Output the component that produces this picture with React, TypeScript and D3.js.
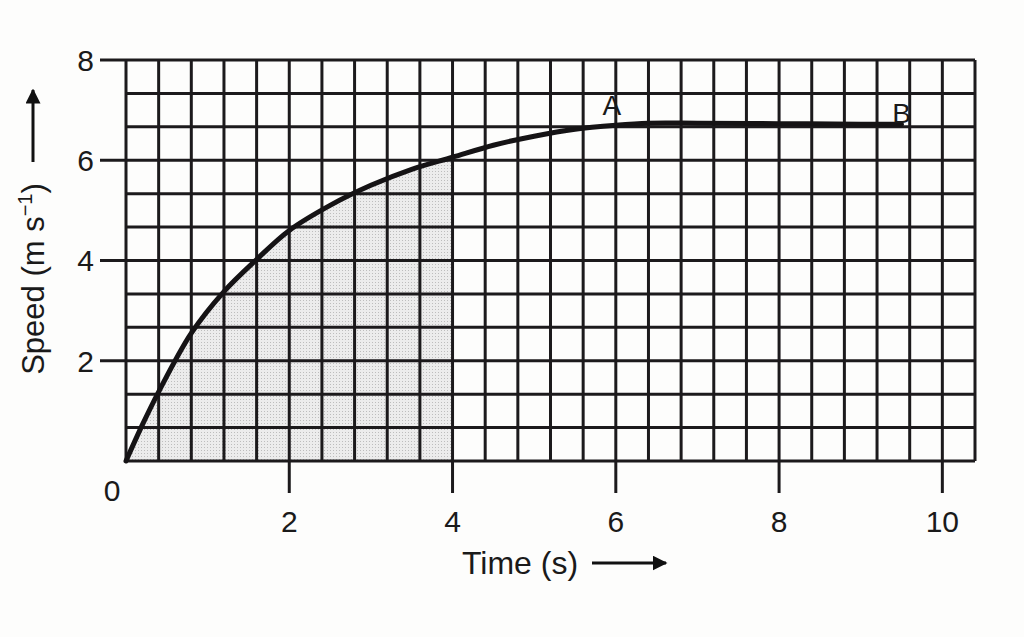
import React from "react";
import * as d3 from "d3";

const timeValues = [0, 0.2, 0.4, 0.8, 1.2, 1.6, 2, 2.5, 3, 3.5, 4, 4.5, 5, 5.5, 6, 6.4, 7, 8, 9, 9.5];
const speedValues = [0, 0.72, 1.38, 2.55, 3.38, 4.02, 4.6, 5.1, 5.5, 5.82, 6.06, 6.3, 6.48, 6.62, 6.7, 6.74, 6.74, 6.73, 6.72, 6.72];
const xTickLabels = [2, 4, 6, 8, 10];
const yTickLabels = [2, 4, 6, 8];
const shadedUntil = 4;
const xCellSize = 0.4;
const xCells = 26;
const yCellSize = 2 / 3;
const yCells = 12;

const W = 1024, H = 637;
const FONT = "'Liberation Sans', Arial, Helvetica, sans-serif";

export default function App() {
  const x = d3.scaleLinear().domain([0, xCells * xCellSize]).range([126, 975]);
  const y = d3.scaleLinear().domain([0, 8]).range([461, 60]);
  const data = timeValues.map((t, i) => ({ t, v: speedValues[i] }));
  const line = d3.line<any>().x(d => x(d.t)).y(d => y(d.v)).curve(d3.curveCatmullRom.alpha(0.5));
  const shaded = data.filter(d => d.t <= shadedUntil);
  const area = d3.area<any>().x(d => x(d.t)).y0(y(0)).y1(d => y(d.v)).curve(d3.curveCatmullRom.alpha(0.5));
  const vLines = d3.range(0, xCells + 1).map(k => k * xCellSize);
  const hLines = d3.range(0, yCells + 1).map(k => k * yCellSize);
  const gridColor = "#1c1a1c";
  const x0 = x(0), x1 = x(xCells * xCellSize), yTop = y(8), yBot = y(0);
  return (
    <svg width={W} height={H} style={{ position: "absolute", left: 0, top: 0, background: "#fdfdfc" }} fontFamily={FONT}>
      <defs>
        <pattern id="stip" width="3" height="3" patternUnits="userSpaceOnUse">
          <rect width="3" height="3" fill="#ececec" />
          <rect width="1" height="1" fill="#bdbdbd" />
        </pattern>
        <marker id="arr" viewBox="0 0 10 10" refX="9" refY="5" markerWidth="5" markerHeight="5" orient="auto">
          <path d="M0,0 L10,5 L0,10 z" fill="#111" />
        </marker>
      </defs>
      <path d={area(shaded) || ""} fill="url(#stip)" />
      {vLines.map((t, i) => (
        <line key={"v" + i} x1={x(t)} x2={x(t)} y1={yTop} y2={yBot} stroke={gridColor} strokeWidth={3} />
      ))}
      {hLines.map((v, i) => (
        <line key={"h" + i} x1={x0} x2={x1} y1={y(v)} y2={y(v)} stroke={gridColor} strokeWidth={3} />
      ))}
      {yTickLabels.map(v => (
        <g key={"yt" + v}>
          <line x1={100} x2={x0} y1={y(v)} y2={y(v)} stroke={gridColor} strokeWidth={3} />
          <text x={94} y={y(v)} dy="0.36em" textAnchor="end" fontSize={30} fill="#1a1a1a">{v}</text>
        </g>
      ))}
      {xTickLabels.map(t => (
        <g key={"xt" + t}>
          <line x1={x(t)} x2={x(t)} y1={yBot} y2={yBot + 32} stroke={gridColor} strokeWidth={3} />
          <text x={x(t)} y={yBot + 71} textAnchor="middle" fontSize={30} fill="#1a1a1a">{t}</text>
        </g>
      ))}
      <text x={x0 - 14} y={yBot + 40} textAnchor="middle" fontSize={30} fill="#1a1a1a">0</text>
      <path d={line(data) || ""} fill="none" stroke="#151315" strokeWidth={5} strokeLinecap="round" />
      <text x={x(6) - 4} y={y(6.74) - 8} textAnchor="middle" fontSize={28} fill="#1a1a1a">A</text>
      <text x={x(9.5)} y={y(6.72) - 1} textAnchor="middle" fontSize={28} fill="#1a1a1a">B</text>
      <text x={520} y={574} textAnchor="middle" fontSize={32} fill="#1a1a1a">Time (s)</text>
      <line x1={592} x2={666} y1={563} y2={563} stroke="#111" strokeWidth={3} markerEnd="url(#arr)" />
      <g transform="translate(44, 279) rotate(-90)">
        <text x={0} y={0} textAnchor="middle" fontSize={31} fill="#1a1a1a">
          Speed (m s<tspan dy="-12" fontSize={20}>−1</tspan><tspan dy="12">)</tspan>
        </text>
      </g>
      <line x1={33} x2={33} y1={162} y2={90} stroke="#111" strokeWidth={3} markerEnd="url(#arr)" />
    </svg>
  );
}
